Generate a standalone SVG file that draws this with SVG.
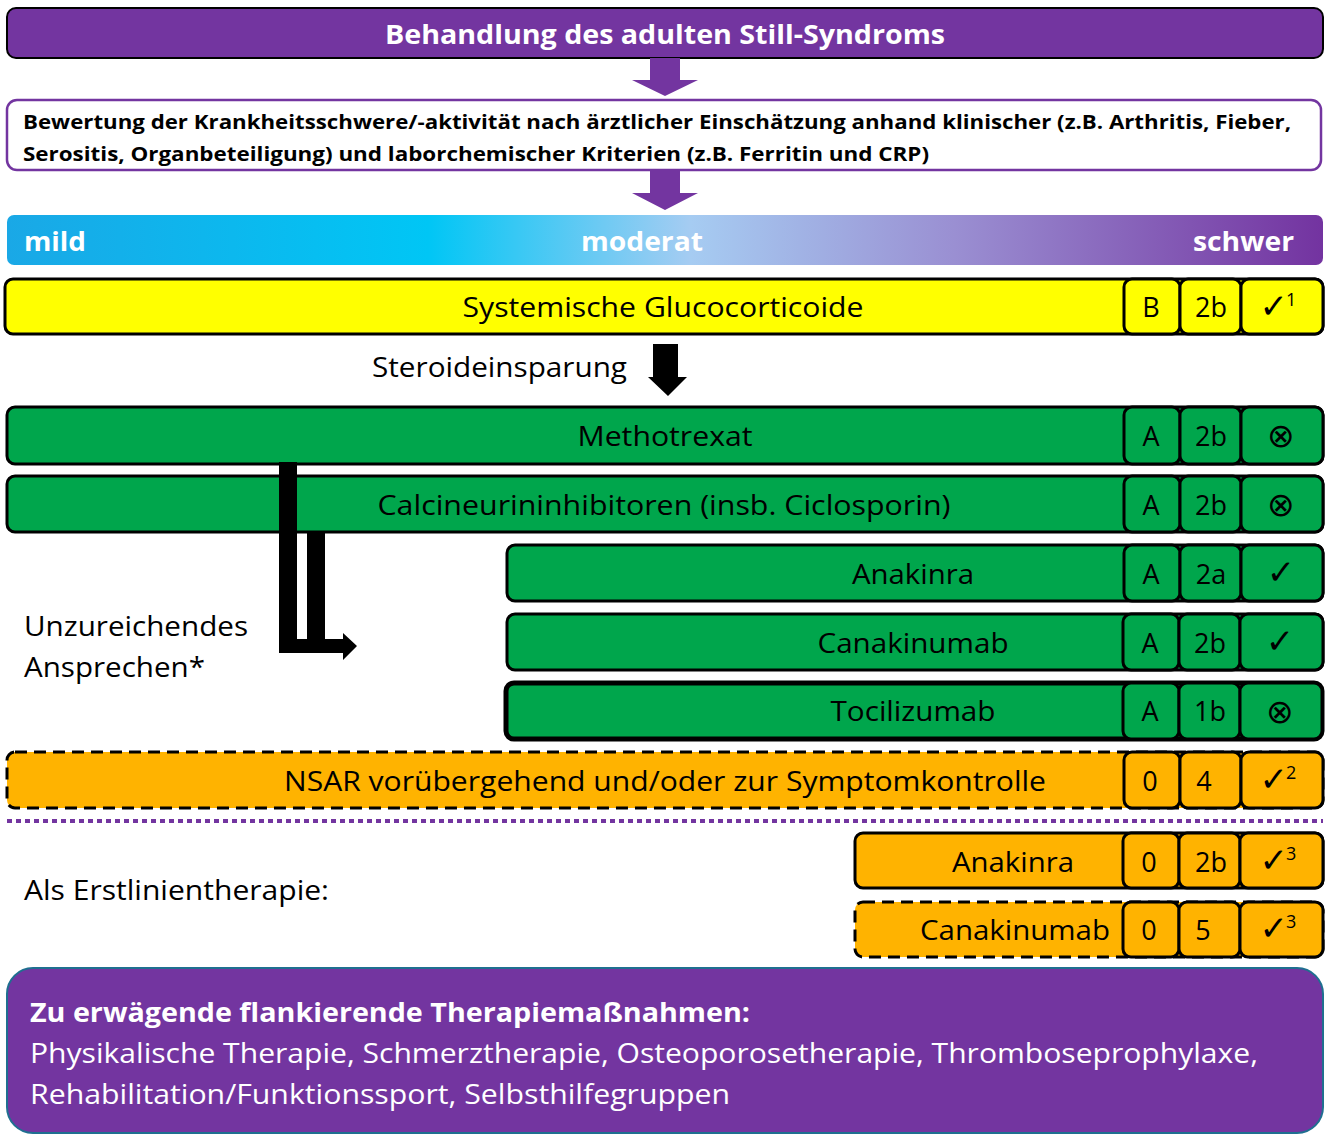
<svg xmlns="http://www.w3.org/2000/svg" width="1326" height="1135" viewBox="0 0 1326 1135">
<style>
text{font-family:"Open Sans","Noto Sans","DejaVu Sans",sans-serif;}
.w{fill:#fff;font-weight:bold;}
.b{fill:#000;font-weight:bold;}
.t{fill:#000;font-size:27px;}
.c{text-anchor:middle;}
.row{stroke:#000;stroke-width:3;}
.cell{stroke:#000;stroke-width:3;}
.g{fill:#00A64C;}
.y{fill:#FFFF00;}
.o{fill:#FFB300;}
.dash{stroke-dasharray:12 7;}
.chk{font-family:"DejaVu Sans",sans-serif;font-size:34px;}
.ox{font-family:"DejaVu Sans",sans-serif;font-size:33px;font-weight:200;}
.sup{font-family:"Open Sans",sans-serif;font-size:18px;}
</style>
<defs>
<linearGradient id="sev" x1="0" y1="0" x2="1" y2="0">
<stop offset="0" stop-color="#1AA8E6"/>
<stop offset="0.32" stop-color="#00C6F5"/>
<stop offset="0.52" stop-color="#A6CCF2"/>
<stop offset="0.72" stop-color="#9A8FD2"/>
<stop offset="1" stop-color="#7333A0"/>
</linearGradient>
</defs>

<g id="title">
<rect x="7" y="8" width="1316" height="50" rx="9" fill="#7335A0" stroke="#000" stroke-width="2"/>
<text x="665" y="44" class="w c" font-size="27" textLength="560" lengthAdjust="spacingAndGlyphs">Behandlung des adulten Still-Syndroms</text>
</g>

<g id="assessment">
<rect x="7" y="100" width="1314" height="70" rx="10" fill="#fff" stroke="#7335A0" stroke-width="2.5"/>
<text x="23" y="129" class="b" font-size="20" textLength="1268" lengthAdjust="spacingAndGlyphs">Bewertung der Krankheitsschwere/-aktivität nach ärztlicher Einschätzung anhand klinischer (z.B. Arthritis, Fieber,</text>
<text x="23" y="161" class="b" font-size="20" textLength="906" lengthAdjust="spacingAndGlyphs">Serositis, Organbeteiligung) und laborchemischer Kriterien (z.B. Ferritin und CRP)</text>
</g>

<g id="severity">
<rect x="7" y="215" width="1316" height="50" rx="7" fill="url(#sev)"/>
<text x="24" y="251" class="w" font-size="27" textLength="62" lengthAdjust="spacingAndGlyphs">mild</text>
<text x="642" y="251" class="w c" font-size="27" textLength="122" lengthAdjust="spacingAndGlyphs">moderat</text>
<text x="1294" y="251" class="w" font-size="27" text-anchor="end" textLength="101" lengthAdjust="spacingAndGlyphs">schwer</text>
</g>

<g id="gc">
<rect x="5" y="279" width="1318" height="55" rx="8" class="row y"/>
<text x="663" y="317" class="t c" textLength="401" lengthAdjust="spacingAndGlyphs">Systemische Glucocorticoide</text>
<rect x="1124" y="279" width="56" height="55" rx="8" class="cell y"/>
<rect x="1180" y="279" width="61" height="55" rx="8" class="cell y"/>
<rect x="1241" y="279" width="82" height="55" rx="8" class="cell y"/>
<text x="1151" y="317" class="t c">B</text>
<text x="1211" y="317" class="t c">2b</text>
<text x="1278" y="318" class="chk c">✓<tspan class="sup" dx="-2" dy="-12">1</tspan></text>
</g>

<g id="steroid-label">
<text x="372" y="377" class="t" textLength="255" lengthAdjust="spacingAndGlyphs">Steroideinsparung</text>
</g>

<g id="mtx">
<rect x="7" y="407" width="1316" height="57" rx="8" class="row g"/>
<text x="665" y="446" class="t c" textLength="175" lengthAdjust="spacingAndGlyphs">Methotrexat</text>
<rect x="1124" y="407" width="56" height="57" rx="8" class="cell g"/>
<rect x="1180" y="407" width="61" height="57" rx="8" class="cell g"/>
<rect x="1241" y="407" width="82" height="57" rx="8" class="cell g"/>
<text x="1151" y="446" class="t c">A</text>
<text x="1211" y="446" class="t c">2b</text>
<text x="1281" y="447" class="ox c">⊗</text>
</g>

<g id="cni">
<rect x="7" y="476" width="1316" height="56" rx="8" class="row g"/>
<text x="664" y="515" class="t c" textLength="573" lengthAdjust="spacingAndGlyphs">Calcineurininhibitoren (insb. Ciclosporin)</text>
<rect x="1124" y="476" width="56" height="56" rx="8" class="cell g"/>
<rect x="1180" y="476" width="61" height="56" rx="8" class="cell g"/>
<rect x="1241" y="476" width="82" height="56" rx="8" class="cell g"/>
<text x="1151" y="515" class="t c">A</text>
<text x="1211" y="515" class="t c">2b</text>
<text x="1281" y="516" class="ox c">⊗</text>
</g>

<g id="anakinra">
<rect x="507" y="545" width="816" height="56" rx="8" class="row g"/>
<text x="913" y="584" class="t c" textLength="122" lengthAdjust="spacingAndGlyphs">Anakinra</text>
<rect x="1124" y="545" width="56" height="56" rx="8" class="cell g"/>
<rect x="1180" y="545" width="61" height="56" rx="8" class="cell g"/>
<rect x="1241" y="545" width="82" height="56" rx="8" class="cell g"/>
<text x="1151" y="584" class="t c">A</text>
<text x="1211" y="584" class="t c">2a</text>
<text x="1281" y="584" class="chk c">✓</text>
</g>

<g id="canakinumab">
<rect x="507" y="614" width="816" height="56" rx="8" class="row g"/>
<text x="913" y="653" class="t c" textLength="191" lengthAdjust="spacingAndGlyphs">Canakinumab</text>
<rect x="1123" y="614" width="56" height="56" rx="8" class="cell g"/>
<rect x="1179" y="614" width="61" height="56" rx="8" class="cell g"/>
<rect x="1240" y="614" width="83" height="56" rx="8" class="cell g"/>
<text x="1150" y="653" class="t c">A</text>
<text x="1210" y="653" class="t c">2b</text>
<text x="1280" y="653" class="chk c">✓</text>
</g>

<g id="tocilizumab">
<rect x="506" y="683" width="816" height="56" rx="8" fill="#00A64C" stroke="#000" stroke-width="5"/>
<text x="913" y="721" class="t c" textLength="165" lengthAdjust="spacingAndGlyphs">Tocilizumab</text>
<rect x="1123" y="683" width="56" height="56" rx="8" class="cell g"/>
<rect x="1179" y="683" width="61" height="56" rx="8" class="cell g"/>
<rect x="1240" y="683" width="82" height="56" rx="8" class="cell g"/>
<text x="1150" y="721" class="t c">A</text>
<text x="1210" y="721" class="t c">1b</text>
<text x="1280" y="723" class="ox c">⊗</text>
</g>

<g id="unzureichend">
<text x="24" y="636" class="t" textLength="224" lengthAdjust="spacingAndGlyphs">Unzureichendes</text>
<text x="24" y="677" class="t" textLength="181" lengthAdjust="spacingAndGlyphs">Ansprechen*</text>
</g>

<g id="nsar">
<rect x="7" y="752" width="1316" height="56" rx="8" class="row o dash"/>
<text x="665" y="791" class="t c" textLength="762" lengthAdjust="spacingAndGlyphs">NSAR vorübergehend und/oder zur Symptomkontrolle</text>
<rect x="1124" y="752" width="56" height="56" rx="8" class="cell o"/>
<rect x="1180" y="752" width="61" height="56" rx="8" class="cell o"/>
<rect x="1241" y="752" width="82" height="56" rx="8" class="cell o"/>
<text x="1150" y="791" class="t c">0</text>
<text x="1204" y="791" class="t c">4</text>
<text x="1278" y="791" class="chk c">✓<tspan class="sup" dx="-2" dy="-12">2</tspan></text>
</g>

<g id="separator">
<line x1="7" y1="821" x2="1323" y2="821" stroke="#7335A0" stroke-width="4" stroke-dasharray="5 4"/>
</g>

<g id="erstlinie-label">
<text x="24" y="900" class="t" textLength="305" lengthAdjust="spacingAndGlyphs">Als Erstlinientherapie:</text>
</g>

<g id="anakinra-first">
<rect x="855" y="833" width="468" height="55" rx="8" class="row o"/>
<text x="1013" y="872" class="t c" textLength="122" lengthAdjust="spacingAndGlyphs">Anakinra</text>
<rect x="1123" y="833" width="56" height="55" rx="8" class="cell o"/>
<rect x="1179" y="833" width="61" height="55" rx="8" class="cell o"/>
<rect x="1240" y="833" width="83" height="55" rx="8" class="cell o"/>
<text x="1149" y="872" class="t c">0</text>
<text x="1211" y="872" class="t c">2b</text>
<text x="1278" y="872" class="chk c">✓<tspan class="sup" dx="-2" dy="-12">3</tspan></text>
</g>

<g id="canakinumab-first">
<rect x="855" y="902" width="468" height="55" rx="8" class="row o dash"/>
<text x="1015" y="940" class="t c" textLength="190" lengthAdjust="spacingAndGlyphs">Canakinumab</text>
<rect x="1123" y="902" width="56" height="55" rx="8" class="cell o"/>
<rect x="1179" y="902" width="61" height="55" rx="8" class="cell o"/>
<rect x="1240" y="902" width="83" height="55" rx="8" class="cell o"/>
<text x="1149" y="940" class="t c">0</text>
<text x="1203" y="940" class="t c">5</text>
<text x="1278" y="940" class="chk c">✓<tspan class="sup" dx="-2" dy="-12">3</tspan></text>
</g>

<g id="flankierend">
<rect x="7" y="968" width="1316" height="165" rx="26" fill="#7335A0" stroke="#1F6F90" stroke-width="2"/>
<text x="30" y="1022" class="w" font-size="27" textLength="720" lengthAdjust="spacingAndGlyphs">Zu erwägende flankierende Therapiemaßnahmen:</text>
<text x="30" y="1063" fill="#fff" font-size="27" textLength="1228" lengthAdjust="spacingAndGlyphs">Physikalische Therapie, Schmerztherapie, Osteoporosetherapie, Thromboseprophylaxe,</text>
<text x="30" y="1104" fill="#fff" font-size="27" textLength="700" lengthAdjust="spacingAndGlyphs">Rehabilitation/Funktionssport, Selbsthilfegruppen</text>
</g>

<g id="connectors">
<polygon points="650,58 680,58 680,80 698,80 665,96 632,80 650,80" fill="#7335A0"/>
<polygon points="650,170 680,170 680,193 698,193 665,210 632,193 650,193" fill="#7335A0"/>
<polygon points="653,344 678,344 678,377 687,377 668,396 648,377 653,377" fill="#000"/>
<polygon points="279,462 297,462 297,639 343,639 343,633 357,646 343,660 343,653 279,653" fill="#000"/>
<rect x="307" y="533" width="18" height="106" fill="#000"/>
</g>
</svg>
